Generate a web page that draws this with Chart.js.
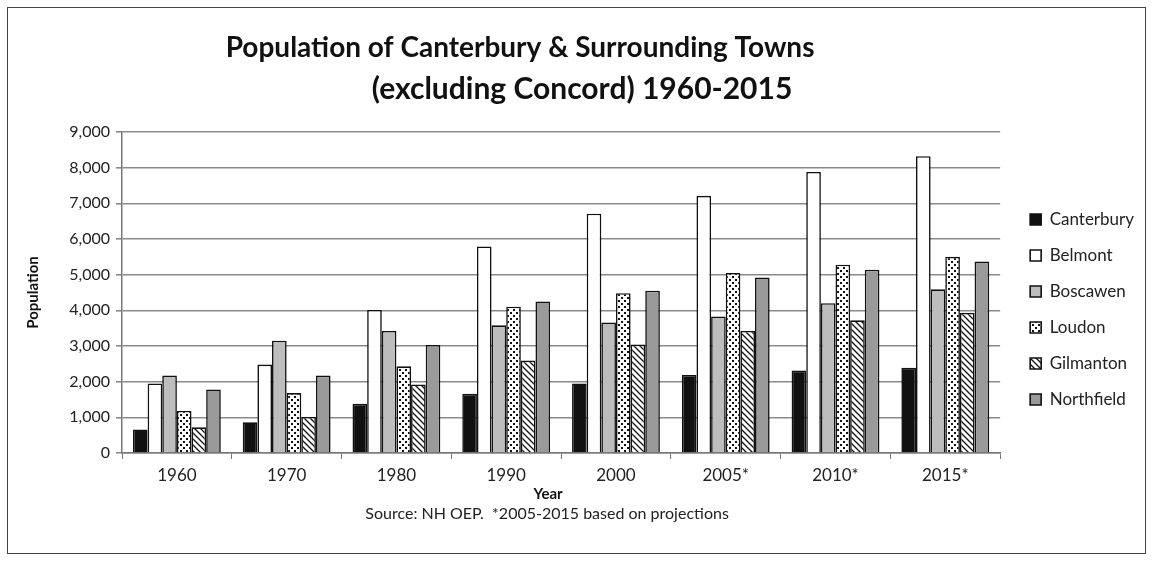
<!DOCTYPE html>
<html>
<head>
<meta charset="utf-8">
<script src="https://cdn.jsdelivr.net/npm/chart.js@4"></script>
<style>
  html, body { margin: 0; padding: 0; background: #fff; }
  #frame { position: absolute; left: 7px; top: 7px; width: 1137px; height: 545px; border: 1px solid #444; }
  #myChart { display: block; }
</style>
</head>
<body>
<div id="frame"><canvas id="myChart" width="1137" height="545"></canvas></div>
<script>
const years = ['1960', '1970', '1980', '1990', '2000', '2005*', '2010*', '2015*'];
const canterbury = [660, 860, 1380, 1660, 1950, 2190, 2310, 2390];
const belmont = [1950, 2480, 4010, 5790, 6710, 7210, 7880, 8320];
const boscawen = [2170, 3150, 3420, 3580, 3660, 3830, 4200, 4590];
const loudon = [1180, 1680, 2430, 4100, 4480, 5050, 5280, 5500];
const gilmanton = [720, 1010, 1920, 2590, 3040, 3420, 3720, 3930];
const northfield = [1780, 2170, 3030, 4250, 4550, 4920, 5140, 5370];
const yTicks = [0, 1000, 2000, 3000, 4000, 5000, 6000, 7000, 8000, 9000];

const titleLines = ['Population of Canterbury & Surrounding Towns', '(excluding Concord) 1960-2015'];
const xTitle = 'Year';
const sourceNote = 'Source: NH OEP.  *2005-2015 based on projections';

const fontFamily = 'Lato, "Open Sans", sans-serif';

function dotPattern() {
  const c = document.createElement('canvas');
  c.width = 6; c.height = 6;
  const g = c.getContext('2d');
  g.fillStyle = '#fff';
  g.fillRect(0, 0, 6, 6);
  g.fillStyle = '#111';
  g.fillRect(1, 1, 2, 2);
  g.fillRect(4, 4, 2, 2);
  return g.createPattern(c, 'repeat');
}

function hatchPattern() {
  const c = document.createElement('canvas');
  c.width = 6; c.height = 6;
  const g = c.getContext('2d');
  g.fillStyle = '#fff';
  g.fillRect(0, 0, 6, 6);
  g.strokeStyle = '#111';
  g.lineWidth = 1.3;
  g.beginPath();
  g.moveTo(-1, -1); g.lineTo(7, 7);
  g.moveTo(-4, 2); g.lineTo(4, 10);
  g.moveTo(2, -4); g.lineTo(10, 4);
  g.stroke();
  return g.createPattern(c, 'repeat');
}

function series(label, data, fill) {
  return {
    label: label,
    data: data,
    backgroundColor: fill,
    borderColor: '#111',
    borderWidth: 1.6,
    borderSkipped: 'bottom'
  };
}

// titles and notes placed like the original (not centred on the canvas)
const freeText = {
  id: 'freeText',
  afterLayout(chart) {
    chart.legend.left += 11;
    chart.legend.right += 11;
  },
  afterDraw(chart) {
    const c = chart.ctx;
    const area = chart.chartArea;
    const mid = (area.left + area.right) / 2;
    c.save();
    c.fillStyle = '#111';
    c.textAlign = 'center';
    c.textBaseline = 'alphabetic';
    c.font = 'bold 28px ' + fontFamily;
    c.fillText(titleLines[0], mid - 41, 49);
    c.font = 'bold 30px ' + fontFamily;
    c.fillText(titleLines[1], mid + 21, 91);
    c.textBaseline = 'middle';
    c.font = 'bold 15px ' + fontFamily;
    c.fillText(xTitle, mid - 13, area.bottom + 41);
    c.fillStyle = '#222';
    c.font = '16px ' + fontFamily;
    c.fillText(sourceNote, mid - 14, area.bottom + 61);
    c.restore();
  }
};

const ctx = document.getElementById('myChart').getContext('2d');
const myChart = new Chart(ctx, {
  type: 'bar',
  data: {
    labels: years,
    datasets: [
      series('Canterbury', canterbury, '#111'),
      series('Belmont', belmont, '#fff'),
      series('Boscawen', boscawen, '#bdbdbd'),
      series('Loudon', loudon, dotPattern()),
      series('Gilmanton', gilmanton, hatchPattern()),
      series('Northfield', northfield, '#9a9a9a')
    ]
  },
  plugins: [freeText],
  options: {
    responsive: false,
    animation: false,
    datasets: {
      bar: { categoryPercentage: 0.8, barPercentage: 1.0 }
    },
    layout: { padding: { left: 16, right: 12, top: 124, bottom: 66 } },
    plugins: {
      title: { display: false },
      legend: {
        position: 'right',
        align: 'center',
        labels: {
          color: '#222',
          font: { family: fontFamily, size: 17 },
          boxWidth: 11,
          boxHeight: 11,
          padding: 19
        }
      },
      tooltip: { enabled: false }
    },
    scales: {
      x: {
        afterFit: axis => { axis.height = 34; },
        grid: { display: true, drawOnChartArea: false, offset: true, tickLength: 6, color: '#777', lineWidth: 1 },
        border: { color: '#777', width: 1.5 },
        ticks: { color: '#222', font: { family: fontFamily, size: 17 }, padding: 6 }
      },
      y: {
        min: 0,
        max: 9000,
        afterFit: axis => { axis.width = 98; },
        afterBuildTicks: axis => { axis.ticks = yTicks.map(v => ({ value: v })); },
        grid: { color: '#8a8a8a', lineWidth: 1.6, tickLength: 6 },
        border: { color: '#777', width: 1.5 },
        ticks: {
          color: '#222',
          font: { family: fontFamily, size: 16 },
          padding: 6,
          callback: v => v.toLocaleString('en-US')
        },
        title: { display: true, text: 'Population', color: '#111', font: { family: fontFamily, size: 15, weight: 'bold' }, padding: { top: 0, bottom: 0 } }
      }
    }
  }
});
</script>
</body>
</html>
